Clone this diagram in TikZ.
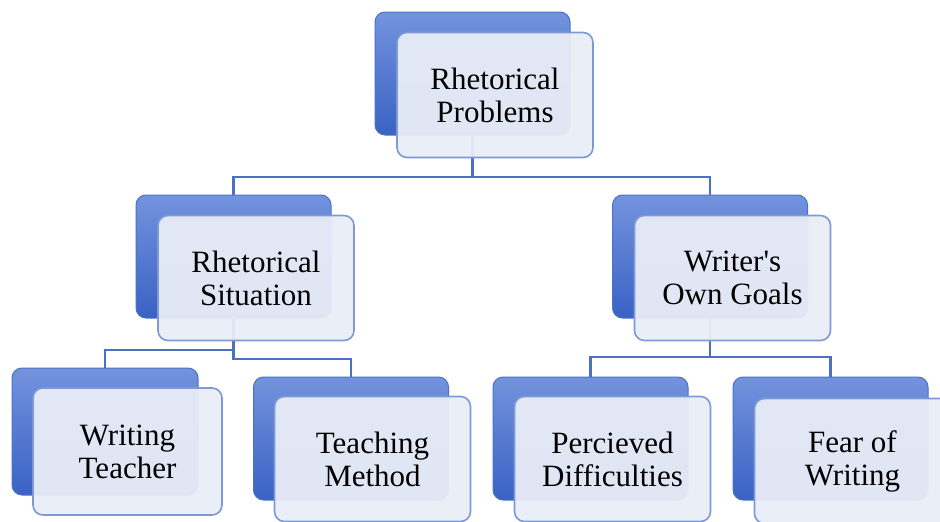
\documentclass[tikz,border=0pt]{standalone}
\usepackage{fontspec}
\setmainfont{Liberation Serif}
\definecolor{boxblue}{HTML}{4A72CC}
\definecolor{boxdark}{HTML}{3A62C4}
\definecolor{boxlight}{HTML}{7393DD}
\definecolor{paneblue}{HTML}{E9EDF7}
\definecolor{paneedge}{HTML}{7D99D6}
\definecolor{linkblue}{HTML}{4C70C2}

\begin{document}
\begin{tikzpicture}[x=1pt, y=-1pt,
    back/.style={rounded corners=10pt, minimum width=195pt, minimum height=123pt,
                 top color=boxlight, bottom color=boxdark, draw=boxblue, line width=1pt},
    front/.style={rounded corners=10pt, minimum width=196pt, minimum height=125pt,
                  fill=paneblue, fill opacity=0.95, text opacity=1, draw=paneedge,
                  line width=1.6pt, align=center, font=\fontsize{31}{33}\selectfont},
    link/.style={draw=linkblue, line width=2.6pt}]
          \useasboundingbox (0,0) rectangle (940,522);

          % back plates
          \node[back] (rpb) at (472.5,73.5)  {};
          \node[back] (rsb) at (233.5,256.5) {};
          \node[back] (wgb) at (710,256.5)   {};
          \node[back, minimum width=186pt, minimum height=127pt] (wtb) at (105,431.5) {};
          \node[back] (tmb) at (351,438.5)   {};
          \node[back] (pdb) at (590.5,438.5) {};
          \node[back] (fwb) at (830.5,438.5) {};

          % connectors
          \coordinate (j1) at (472.5,177);
          \coordinate (j2) at (233.5,350);
          \coordinate (j3) at (233.5,359);
          \coordinate (j4) at (710,357);
          \draw[link] (rpb.south) -- (j1) -| (rsb.north);
          \draw[link] (j1) -| (wgb.north);
          \draw[link] (rsb.south) -- (j3) -| (tmb.north);
          \draw[link] (j2) -| (wtb.north);
          \draw[link] (wgb.south) -- (j4) -| (pdb.north);
          \draw[link] (j4) -| (fwb.north);

          % front panes
          \node[front] (rp) at (495,95)    {Rhetorical\\Problems};
          \node[front] (rs) at (256,278)   {Rhetorical\\Situation};
          \node[front] (wg) at (732.5,278) {Writer\textquotesingle s\\Own Goals};
          \node[front, minimum width=189pt, minimum height=127pt] (wt) at (127.5,451.5) {Writing\\Teacher};
          \node[front] (tm) at (372.5,459) {Teaching\\Method};
          \node[front] (pd) at (612.5,459) {Percieved\\Difficulties};
          \node[front] (fw) at (852.5,461) {Fear of\\Writing};
\end{tikzpicture}
\end{document}
